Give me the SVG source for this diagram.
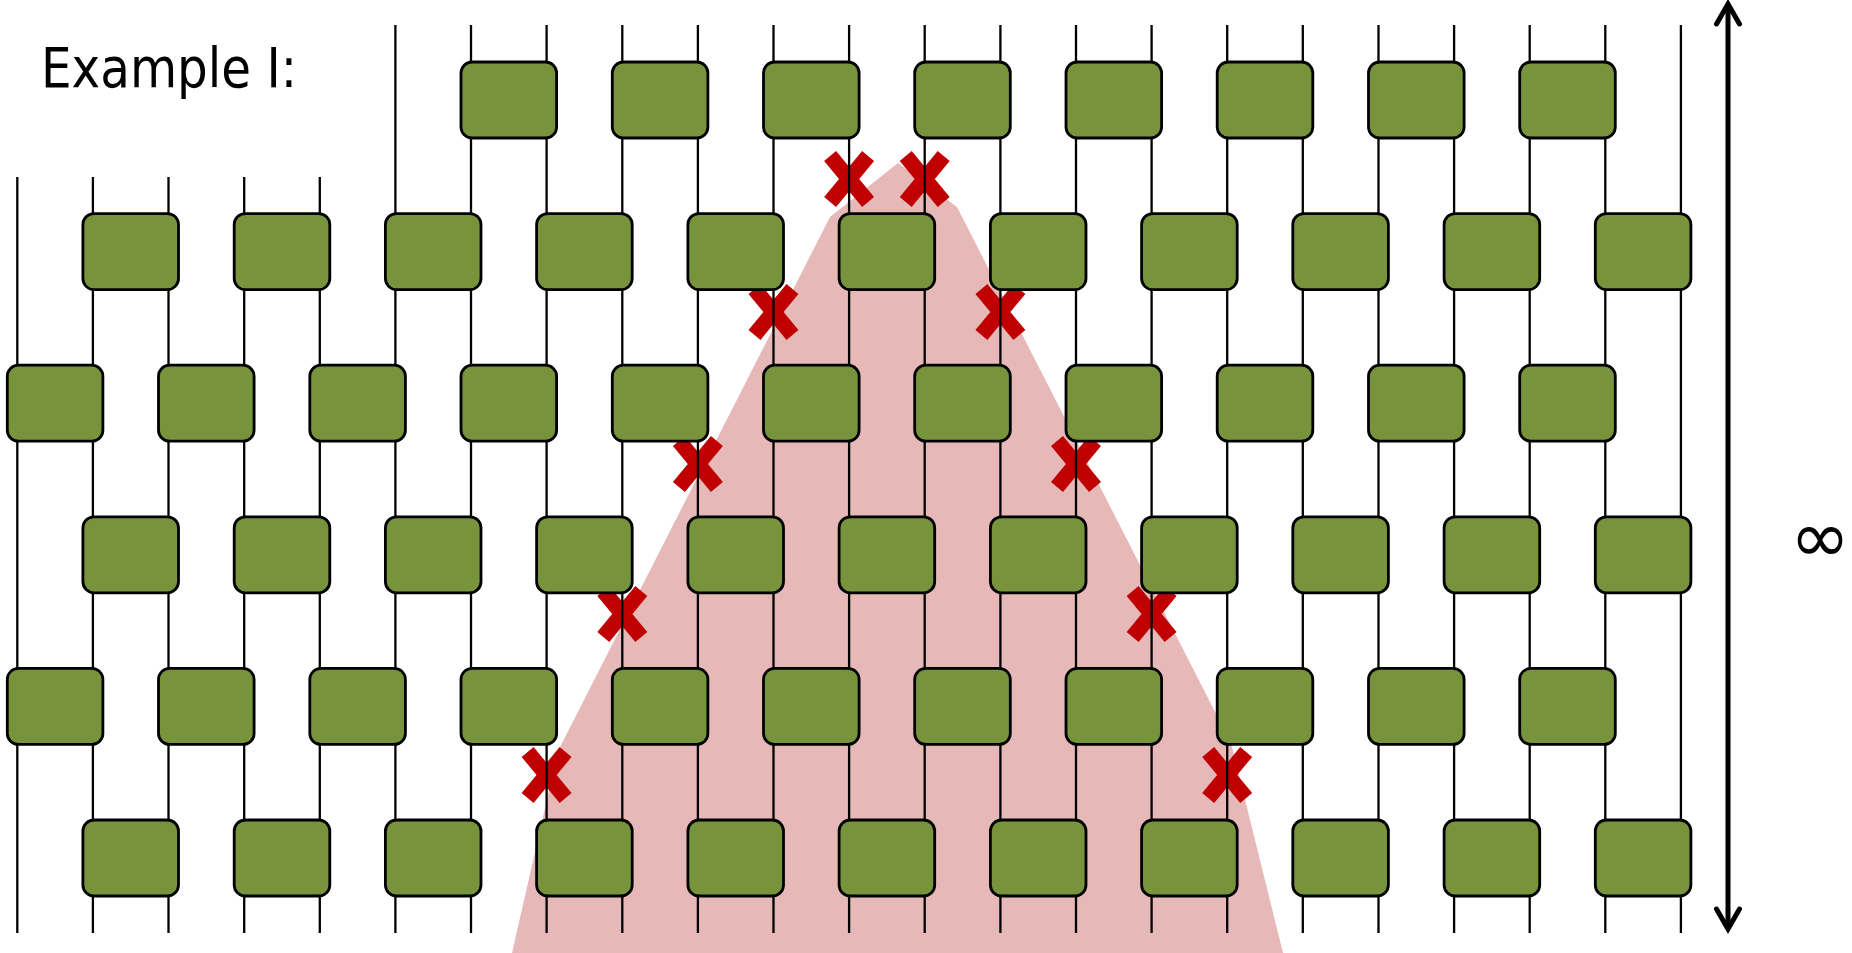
<svg xmlns="http://www.w3.org/2000/svg" xmlns:xlink="http://www.w3.org/1999/xlink" width="1852" height="953" viewBox="0 0 1852 953">
<style>
.box{fill:#77933C;stroke:#000;stroke-width:2.8}
.wire{stroke:#000;stroke-width:2.3;fill:none}
.cross{stroke:#C00000;stroke-width:15.5;fill:none}
.arrow{stroke:#000;stroke-width:5;fill:none}
.lbl{font-family:'Comic Sans MS','DejaVu Sans',sans-serif;fill:#000}
</style>
<defs>
<path id="cross" class="cross" d="M-19,-23 L19,23 M19,-23 L-19,23"/>
<rect id="b" class="box" width="95.6" height="76" rx="11" ry="11"/>
</defs>
<rect width="1852" height="953" fill="#fff"/>
<polygon id="region" points="512,953 558,751 830,217 898,163 957,207 1231,743 1283,953" fill="#E6B9B8"/>
<g id="crosses">
<use xlink:href="#cross" x="849.1" y="179"/>
<use xlink:href="#cross" x="924.7" y="179"/>
<use xlink:href="#cross" x="773.5" y="312"/>
<use xlink:href="#cross" x="1000.4" y="312"/>
<use xlink:href="#cross" x="697.9" y="464"/>
<use xlink:href="#cross" x="1076" y="464"/>
<use xlink:href="#cross" x="622.3" y="614"/>
<use xlink:href="#cross" x="1151.6" y="614"/>
<use xlink:href="#cross" x="546.6" y="775"/>
<use xlink:href="#cross" x="1227.2" y="775"/>
</g>
<g id="connectors">
<line class="wire" x1="17.3" y1="177" x2="17.3" y2="933"/>
<line class="wire" x1="92.9" y1="177" x2="92.9" y2="933"/>
<line class="wire" x1="168.5" y1="177" x2="168.5" y2="933"/>
<line class="wire" x1="244.2" y1="177" x2="244.2" y2="933"/>
<line class="wire" x1="319.8" y1="177" x2="319.8" y2="933"/>
<line class="wire" x1="395.4" y1="25" x2="395.4" y2="933"/>
<line class="wire" x1="471" y1="25" x2="471" y2="933"/>
<line class="wire" x1="546.6" y1="25" x2="546.6" y2="933"/>
<line class="wire" x1="622.3" y1="25" x2="622.3" y2="933"/>
<line class="wire" x1="697.9" y1="25" x2="697.9" y2="933"/>
<line class="wire" x1="773.5" y1="25" x2="773.5" y2="933"/>
<line class="wire" x1="849.1" y1="25" x2="849.1" y2="933"/>
<line class="wire" x1="924.7" y1="25" x2="924.7" y2="933"/>
<line class="wire" x1="1000.4" y1="25" x2="1000.4" y2="933"/>
<line class="wire" x1="1076" y1="25" x2="1076" y2="933"/>
<line class="wire" x1="1151.6" y1="25" x2="1151.6" y2="933"/>
<line class="wire" x1="1227.2" y1="25" x2="1227.2" y2="933"/>
<line class="wire" x1="1302.8" y1="25" x2="1302.8" y2="933"/>
<line class="wire" x1="1378.5" y1="25" x2="1378.5" y2="933"/>
<line class="wire" x1="1454.1" y1="25" x2="1454.1" y2="933"/>
<line class="wire" x1="1529.7" y1="25" x2="1529.7" y2="933"/>
<line class="wire" x1="1605.3" y1="25" x2="1605.3" y2="933"/>
<line class="wire" x1="1680.9" y1="25" x2="1680.9" y2="933"/>
<g id="arrow">
<line class="arrow" x1="1728" y1="5" x2="1728" y2="928"/>
<path class="arrow" stroke-linecap="round" d="M1716.5,24 L1728,4 L1739.5,24"/>
<path class="arrow" stroke-linecap="round" d="M1716.5,909 L1728,929 L1739.5,909"/>
</g>
</g>
<g id="rowA">
<g id="a1"><use xlink:href="#b" x="461" y="62"/></g>
<g id="a2"><use xlink:href="#b" x="612.3" y="62"/></g>
<g id="a3"><use xlink:href="#b" x="763.5" y="62"/></g>
<g id="a4"><use xlink:href="#b" x="914.7" y="62"/></g>
<g id="a5"><use xlink:href="#b" x="1066" y="62"/></g>
<g id="a6"><use xlink:href="#b" x="1217.2" y="62"/></g>
<g id="a7"><use xlink:href="#b" x="1368.5" y="62"/></g>
<g id="a8"><use xlink:href="#b" x="1519.7" y="62"/></g>
</g>
<g id="rowB">
<g id="b1"><use xlink:href="#b" x="82.9" y="213.6"/></g>
<g id="b2"><use xlink:href="#b" x="234.2" y="213.6"/></g>
<g id="b3"><use xlink:href="#b" x="385.4" y="213.6"/></g>
<g id="b4"><use xlink:href="#b" x="536.6" y="213.6"/></g>
<g id="b5"><use xlink:href="#b" x="687.9" y="213.6"/></g>
<g id="b6"><use xlink:href="#b" x="839.1" y="213.6"/></g>
<g id="b7"><use xlink:href="#b" x="990.4" y="213.6"/></g>
<g id="b8"><use xlink:href="#b" x="1141.6" y="213.6"/></g>
<g id="b9"><use xlink:href="#b" x="1292.8" y="213.6"/></g>
<g id="b10"><use xlink:href="#b" x="1444.1" y="213.6"/></g>
<g id="b11"><use xlink:href="#b" x="1595.3" y="213.6"/></g>
</g>
<g id="rowC">
<g id="c1"><use xlink:href="#b" x="7.3" y="365.2"/></g>
<g id="c2"><use xlink:href="#b" x="158.5" y="365.2"/></g>
<g id="c3"><use xlink:href="#b" x="309.8" y="365.2"/></g>
<g id="c4"><use xlink:href="#b" x="461" y="365.2"/></g>
<g id="c5"><use xlink:href="#b" x="612.3" y="365.2"/></g>
<g id="c6"><use xlink:href="#b" x="763.5" y="365.2"/></g>
<g id="c7"><use xlink:href="#b" x="914.7" y="365.2"/></g>
<g id="c8"><use xlink:href="#b" x="1066" y="365.2"/></g>
<g id="c9"><use xlink:href="#b" x="1217.2" y="365.2"/></g>
<g id="c10"><use xlink:href="#b" x="1368.5" y="365.2"/></g>
<g id="c11"><use xlink:href="#b" x="1519.7" y="365.2"/></g>
</g>
<g id="rowD">
<g id="d1"><use xlink:href="#b" x="82.9" y="516.8"/></g>
<g id="d2"><use xlink:href="#b" x="234.2" y="516.8"/></g>
<g id="d3"><use xlink:href="#b" x="385.4" y="516.8"/></g>
<g id="d4"><use xlink:href="#b" x="536.6" y="516.8"/></g>
<g id="d5"><use xlink:href="#b" x="687.9" y="516.8"/></g>
<g id="d6"><use xlink:href="#b" x="839.1" y="516.8"/></g>
<g id="d7"><use xlink:href="#b" x="990.4" y="516.8"/></g>
<g id="d8"><use xlink:href="#b" x="1141.6" y="516.8"/></g>
<g id="d9"><use xlink:href="#b" x="1292.8" y="516.8"/></g>
<g id="d10"><use xlink:href="#b" x="1444.1" y="516.8"/></g>
<g id="d11"><use xlink:href="#b" x="1595.3" y="516.8"/></g>
</g>
<g id="rowE">
<g id="e1"><use xlink:href="#b" x="7.3" y="668.4"/></g>
<g id="e2"><use xlink:href="#b" x="158.5" y="668.4"/></g>
<g id="e3"><use xlink:href="#b" x="309.8" y="668.4"/></g>
<g id="e4"><use xlink:href="#b" x="461" y="668.4"/></g>
<g id="e5"><use xlink:href="#b" x="612.3" y="668.4"/></g>
<g id="e6"><use xlink:href="#b" x="763.5" y="668.4"/></g>
<g id="e7"><use xlink:href="#b" x="914.7" y="668.4"/></g>
<g id="e8"><use xlink:href="#b" x="1066" y="668.4"/></g>
<g id="e9"><use xlink:href="#b" x="1217.2" y="668.4"/></g>
<g id="e10"><use xlink:href="#b" x="1368.5" y="668.4"/></g>
<g id="e11"><use xlink:href="#b" x="1519.7" y="668.4"/></g>
</g>
<g id="rowF">
<g id="f1"><use xlink:href="#b" x="82.9" y="820"/></g>
<g id="f2"><use xlink:href="#b" x="234.2" y="820"/></g>
<g id="f3"><use xlink:href="#b" x="385.4" y="820"/></g>
<g id="f4"><use xlink:href="#b" x="536.6" y="820"/></g>
<g id="f5"><use xlink:href="#b" x="687.9" y="820"/></g>
<g id="f6"><use xlink:href="#b" x="839.1" y="820"/></g>
<g id="f7"><use xlink:href="#b" x="990.4" y="820"/></g>
<g id="f8"><use xlink:href="#b" x="1141.6" y="820"/></g>
<g id="f9"><use xlink:href="#b" x="1292.8" y="820"/></g>
<g id="f10"><use xlink:href="#b" x="1444.1" y="820"/></g>
<g id="f11"><use xlink:href="#b" x="1595.3" y="820"/></g>
</g>
<g id="title"><text class="lbl" x="41" y="87" font-size="56" textLength="256" lengthAdjust="spacingAndGlyphs">Example I:</text></g>
<g id="infinity"><text class="lbl" x="1820" y="562" font-size="72" text-anchor="middle">∞</text></g>
</svg>
